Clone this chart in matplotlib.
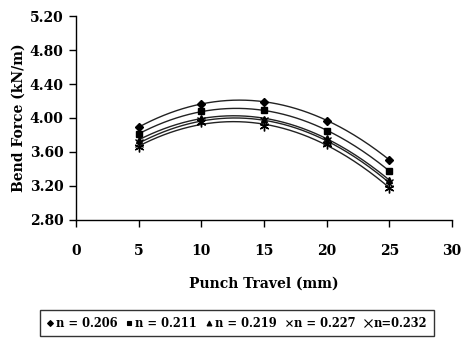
import numpy as np
import matplotlib
matplotlib.use("Agg")
import matplotlib.pyplot as plt
from matplotlib.lines import Line2D

travel = [5, 10, 15, 20, 25]
labels = ["n = 0.206", "n = 0.211", "n = 0.219", "n = 0.227", "n=0.232"]
s206 = [3.89, 4.17, 4.19, 3.97, 3.51]
s211 = [3.81, 4.08, 4.09, 3.85, 3.38]
s219 = [3.74, 4.00, 3.99, 3.76, 3.27]
s227 = [3.70, 3.97, 3.97, 3.73, 3.24]
s232 = [3.66, 3.95, 3.90, 3.69, 3.18]
series = [s206, s211, s219, s227, s232]
markers = ["D", "s", "^", "x", (6, 2, 0)]
msizes = [4.5, 5, 5, 6, 7]
yticks = [2.80, 3.20, 3.60, 4.00, 4.40, 4.80, 5.20]
xticks = [0, 5, 10, 15, 20, 25, 30]

plt.rcParams['font.family'] = ['DejaVu Serif']
plt.rcParams['font.weight'] = 'bold'

fig = plt.figure(figsize=(4.62, 3.42), dpi=100)
ax = fig.add_axes([0.1645, 0.357, 0.8135, 0.596])

handles = []
xs = np.linspace(5, 25, 200)
for vals, m, ms, lab in zip(series, markers, msizes, labels):
    c = np.polyfit(travel, vals, 2)
    ax.plot(xs, np.polyval(c, xs), color='#222222', lw=1.0)
    ax.plot(travel, vals, linestyle='none', marker=m, ms=ms, color='black',
            mec='black', mew=1.0)
    handles.append(Line2D([], [], linestyle='none', marker=m if m != (6, 2, 0) else 'x',
                          ms=ms - 1.5, color='black', mew=0.8))

ax.set_xlim(0, 30)
ax.set_ylim(2.80, 5.20)
ax.set_xticks(xticks)
ax.set_yticks(yticks)
ax.set_yticklabels([f"{v:.2f}" for v in yticks])
ax.set_xticklabels([str(v) for v in xticks])
for s in ['top', 'right']:
    ax.spines[s].set_visible(False)
for s in ['left', 'bottom']:
    ax.spines[s].set_linewidth(1.0)
ax.tick_params(axis='x', direction='out', length=5, width=1, pad=12, labelsize=10)
ax.tick_params(axis='y', direction='out', length=5, width=1, pad=4, labelsize=10)
for t in ax.get_xticklabels() + ax.get_yticklabels():
    t.set_fontweight('bold')

ax.set_xlabel("Punch Travel (mm)", fontsize=10, fontweight='bold', labelpad=14)
ax.set_ylabel("Bend Force (kN/m)", fontsize=10, fontweight='bold', labelpad=3)

leg = fig.legend(handles, labels, loc='center', bbox_to_anchor=(0.513, 0.055),
                 ncol=5, frameon=True, fancybox=False,
                 handlelength=0.6, handletextpad=0.2, columnspacing=0.75,
                 borderpad=0.55, prop={'weight': 'bold', 'size': 8.3})
leg.get_frame().set_edgecolor('black')
leg.get_frame().set_linewidth(1.0)

fig.savefig("out.png", dpi=100)
